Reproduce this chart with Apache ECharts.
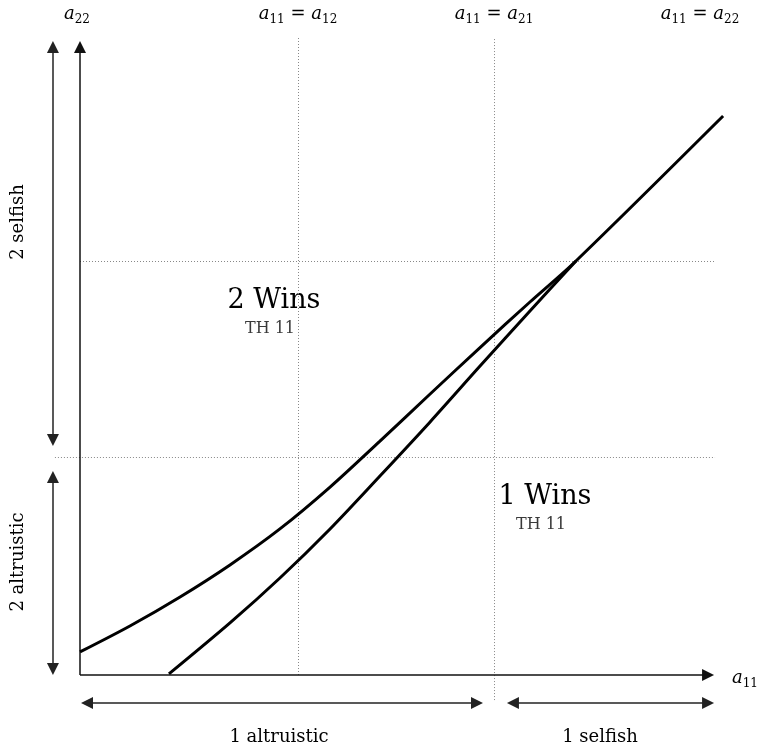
<!DOCTYPE html>
<html><head><meta charset="utf-8">
<script src="https://cdn.jsdelivr.net/npm/echarts@6/dist/echarts.min.js"></script>
<style>html,body{margin:0;padding:0;background:#fff}#c{width:764px;height:752px}</style>
</head><body><div id="c"></div>
<script>
// Upper curve – data units
const upperX = [0, 2.29, 4.59, 6.88, 9.17, 11.47, 13.76, 16.06, 18.35, 20.64, 22.75, 29.50];
const upperY = [1.06, 2.25, 3.58, 5.05, 6.70, 8.62, 10.73, 12.89, 15.02, 17.11, 18.99, 25.64];
// Lower curve
const lowerX = [4.08, 6.88, 9.17, 11.47, 13.76, 16.06, 18.35, 20.64, 22.75];
const lowerY = [0.05, 2.39, 4.45, 6.70, 9.13, 11.61, 14.17, 16.70, 18.99];
// Reference levels: a12 and a21
const a12 = 10;
const a21 = 19;
const axisEnd = 28.81;
const topLabels = ['a22', 'a11 = a12', 'a11 = a21', 'a11 = a22'];
const regionLabels = ['2 Wins', '1 Wins'];
const regionSub = 'TH 11';
const sideLabels = ['2 selfish', '2 altruistic', '1 altruistic', '1 selfish'];

const xMin = -1.6, xMax = 30, yMin = -1.6, yMax = 29.6;
const U = 21.8; // px per unit
const ox = 80, oy = 675;

const chart = echarts.init(document.getElementById('c'));
const zip = (xs, ys) => xs.map((x, i) => [x, ys[i]]);

const axesLines = [
  [[0, 0], [axisEnd, 0]],
  [[0, 0], [0, axisEnd]]
];
const dotted = [
  [[a12, 0], [a12, 29.22]],
  [[a21, -1.15], [a21, 29.22]],
  [[-1.15, a12], [29.13, a12]],
  [[0, a21], [29.13, a21]]
];
const arrows = [
  [[-1.24, 28.81], [-1.24, 10.78]],
  [[-1.24, 9.08], [-1.24, 0.28]],
  [[0.32, -1.28], [18.21, -1.28]],
  [[19.86, -1.28], [28.81, -1.28]]
];

const mathRich = {
  a: {fontFamily: 'DejaVu Serif', fontStyle: 'italic', fontSize: 18, lineHeight: 24, color: '#000'},
  e: {fontFamily: 'DejaVu Serif', fontSize: 18, lineHeight: 24, color: '#000'},
  s: {fontFamily: 'DejaVu Serif', fontSize: 12, lineHeight: 13, verticalAlign: 'bottom', color: '#000'}
};
function mathText(t) {
  return t.split(' ').map(tok => {
    if (tok === '=') return '{e| = }';
    return '{a|' + tok[0] + '}{s|' + tok.slice(1) + '}';
  }).join('');
}

const graphics = [];
const topX = [77, 298, 494, 700];
topLabels.forEach((t, i) => graphics.push({
  type: 'text', x: topX[i], y: 14,
  style: {text: mathText(t), rich: mathRich, align: 'center', verticalAlign: 'middle'}
}));
graphics.push({type: 'text', x: 745, y: 678,
  style: {text: mathText('a11'), rich: mathRich, align: 'center', verticalAlign: 'middle'}});
const winPos = [[274, 301], [545, 497]];
regionLabels.forEach((t, i) => {
  graphics.push({type: 'text', x: winPos[i][0], y: winPos[i][1],
    style: {text: t, font: '27px "DejaVu Serif"', fill: '#000', align: 'center', verticalAlign: 'middle'}});
  graphics.push({type: 'text', x: winPos[i][0] - 4, y: winPos[i][1] + 28,
    style: {text: regionSub, font: '16px "DejaVu Serif"', fill: '#3a3a3a', align: 'center', verticalAlign: 'middle'}});
});
const sidePos = [[18, 222, true], [18, 562, true], [279, 737, false], [600, 737, false]];
sideLabels.forEach((t, i) => graphics.push({
  type: 'text', x: sidePos[i][0], y: sidePos[i][1], rotation: sidePos[i][2] ? Math.PI / 2 : 0,
  style: {text: t, font: '18px "DejaVu Serif"', fill: '#000', align: 'center', verticalAlign: 'middle'}
}));

chart.setOption({
  animation: false,
  backgroundColor: '#fff',
  grid: {left: ox + xMin * U, top: oy - yMax * U, width: (xMax - xMin) * U, height: (yMax - yMin) * U},
  xAxis: {type: 'value', min: xMin, max: xMax, show: false},
  yAxis: {type: 'value', min: yMin, max: yMax, show: false},
  series: [
    {type: 'lines', coordinateSystem: 'cartesian2d', silent: true, clip: false,
      lineStyle: {color: '#888', width: 1, type: [1, 2], opacity: 1}, symbol: 'none',
      data: dotted.map(c => ({coords: c})), z: 1},
    {type: 'lines', coordinateSystem: 'cartesian2d', silent: true, clip: false,
      lineStyle: {color: '#111', width: 1.5, opacity: 1}, symbol: ['none', 'triangle'], symbolSize: 12,
      data: axesLines.map(c => ({coords: c})), z: 2},
    {type: 'lines', coordinateSystem: 'cartesian2d', silent: true, clip: false,
      lineStyle: {color: '#222', width: 1.5, opacity: 1}, symbol: ['triangle', 'triangle'], symbolSize: 12,
      data: arrows.map(c => ({coords: c})), z: 2},
    {type: 'line', data: zip(upperX, upperY), smooth: 0.3, showSymbol: false, clip: false,
      lineStyle: {color: '#000', width: 3}, z: 3},
    {type: 'line', data: zip(lowerX, lowerY), smooth: 0.3, showSymbol: false, clip: false,
      lineStyle: {color: '#000', width: 3}, z: 3}
  ],
  graphic: graphics
});
</script></body></html>
